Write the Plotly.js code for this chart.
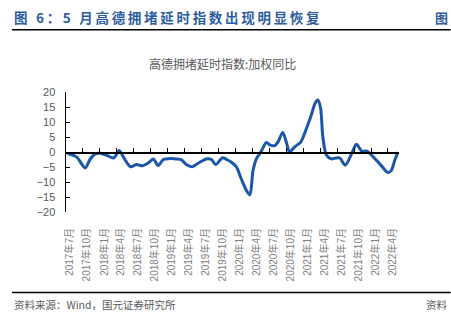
<!DOCTYPE html>
<html><head><meta charset="utf-8">
<script src="https://cdn.plot.ly/plotly-3.0.1.min.js"></script>
<style>html,body{margin:0;padding:0;background:#fff;}#chart{width:451px;height:323px;}</style>
</head><body><div id="chart"></div>
<script>
// Data
const dates = ['2017-06-18','2017-08-06','2017-09-20','2017-10-16','2017-11-13','2017-12-09','2018-01-11','2018-02-20','2018-03-04','2018-03-22','2018-04-22','2018-05-22','2018-06-24','2018-07-26','2018-08-26','2018-09-22','2018-10-18','2018-11-15','2018-12-20','2019-01-23','2019-02-21','2019-03-19','2019-04-20','2019-05-30','2019-07-05','2019-08-01','2019-08-24','2019-09-30','2019-10-22','2019-11-17','2019-12-14','2020-01-09','2020-02-07','2020-02-24','2020-03-12','2020-03-30','2020-04-26','2020-05-23','2020-06-10','2020-07-07','2020-07-25','2020-08-19','2020-09-09','2020-09-24','2020-10-26','2020-11-25','2020-12-25','2021-01-18','2021-02-09','2021-02-25','2021-03-11','2021-03-23','2021-04-11','2021-05-08','2021-06-01','2021-06-22','2021-07-21','2021-08-24','2021-09-20','2021-10-18','2021-11-15','2022-01-06','2022-02-04','2022-03-08','2022-03-26','2022-04-13','2022-05-01'];
const values = [-0.5,-1.7,-5.3,-2.5,-0.6,-0.4,-1.0,-2.0,-1.2,0.5,-2.5,-4.9,-4.2,-4.6,-3.7,-2.3,-4.5,-2.5,-2.2,-2.3,-2.6,-4.2,-4.9,-3.4,-2.3,-2.5,-4.2,-1.9,-2.5,-3.4,-5.0,-9.0,-13.0,-14.3,-6.2,-2.3,0.3,3.2,2.4,2.1,3.4,6.5,2.9,0.1,1.9,3.4,7.9,12.0,16.2,17.3,14.5,5.0,-1.0,-2.3,-2.0,-2.0,-4.4,-0.7,2.6,0.3,0.3,-2.8,-4.8,-6.8,-6.2,-3.0,0.0];
const labelDates = ['2017-07-01','2017-10-01','2018-01-01','2018-04-01','2018-07-01','2018-10-01','2019-01-01','2019-04-01','2019-07-01','2019-10-01','2020-01-01','2020-04-01','2020-07-01','2020-10-01','2021-01-01','2021-04-01','2021-07-01','2021-10-01','2022-01-01','2022-04-01'];
const tickLabels = ['2017年7月','2017年10月','2018年1月','2018年4月','2018年7月','2018年10月','2019年1月','2019年4月','2019年7月','2019年10月','2020年1月','2020年4月','2020年7月','2020年10月','2021年1月','2021年4月','2021年7月','2021年10月','2022年1月','2022年4月'];
const yTicks = [20,15,10,5,0,-5,-10,-15,-20];
const seriesName = '高德拥堵延时指数:加权同比';
const headerText = '图 6：5 月高德拥堵延时指数出现明显恢复';

const fontLat = 'Liberation Sans, Arial, Noto Sans CJK SC, sans-serif';
const fontCJK = 'Noto Sans CJK SC, sans-serif';
const xRange = ['2017-06-09','2022-05-07'];
const spaced = s => Array.from(s).join('\u2009');

const trace = {
  x: dates, y: values, type: 'scatter', mode: 'lines', name: seriesName,
  line: {color: '#1b57a8', width: 3, shape: 'spline', smoothing: 0.8},
  hoverinfo: 'skip'
};

const W = 333.3, H = 120, L = 66, T = 91.7;
const px = x => (x - L) / W;
const py = y => 1 - (y - T) / H;

const layout = {
  width: 451, height: 323,
  margin: {l: 66, r: 51.7, t: 91.7, b: 111.3, pad: 0},
  paper_bgcolor: '#fff', plot_bgcolor: 'rgba(0,0,0,0)',
  showlegend: false,
  xaxis: {
    type: 'date', range: xRange, showgrid: false, zeroline: false, showline: false,
    ticks: '', tickmode: 'array', tickvals: labelDates, ticktext: tickLabels,
    tickangle: -90, tickfont: {family: fontLat, size: 10, color: '#7f7f7f'},
    ticklabelstandoff: 13, anchor: 'y'
  },
  xaxis2: {
    type: 'date', matches: 'x', range: xRange, overlaying: 'x', anchor: 'free', position: 0.5,
    showline: true, linecolor: '#000', linewidth: 1.5, showgrid: false, zeroline: false,
    ticks: 'inside', ticklen: 4, tickwidth: 1, tickcolor: '#000',
    tickmode: 'linear', tick0: '2017-09-08', dtick: 'M3', showticklabels: false
  },
  yaxis: {
    range: [-20, 20], tickmode: 'array', tickvals: yTicks, showgrid: false, zeroline: false,
    showline: true, linecolor: '#000', linewidth: 1.5, ticks: 'inside', ticklen: 4, tickcolor: '#000', tickwidth: 1,
    tickfont: {family: fontLat, size: 11, color: '#595959'}, ticklabelstandoff: 7
  },
  annotations: [
    {text: '<b>' + spaced(headerText) + '</b>', xref: 'paper', yref: 'paper', x: px(12), xanchor: 'left',
     y: py(17), yanchor: 'middle', showarrow: false, font: {family: fontCJK, size: 13.5, color: '#2e5c9e'}},
    {text: '<b>图</b>', xref: 'paper', yref: 'paper', x: px(450), xanchor: 'right',
     y: py(17), yanchor: 'middle', showarrow: false, font: {family: fontCJK, size: 13, color: '#2e5c9e'}},
    {text: seriesName, xref: 'paper', yref: 'paper', x: px(223), xanchor: 'center',
     y: py(63), yanchor: 'middle', showarrow: false, font: {family: fontCJK, size: 12, color: '#595959'}},
    {text: '资料来源：Wind，国元证券研究所', xref: 'paper', yref: 'paper', x: px(12), xanchor: 'left',
     y: py(304), yanchor: 'middle', showarrow: false, font: {family: fontCJK, size: 10.5, color: '#595959'}},
    {text: '资料', xref: 'paper', yref: 'paper', x: px(450), xanchor: 'right',
     y: py(304), yanchor: 'middle', showarrow: false, font: {family: fontCJK, size: 10.5, color: '#595959'}}
  ],
  shapes: [
    {type: 'line', xref: 'paper', yref: 'paper', x0: px(12), x1: px(451),
     y0: py(29.5), y1: py(29.5), line: {color: '#000', width: 1.5}},
    {type: 'line', xref: 'paper', yref: 'paper', x0: px(12), x1: px(451),
     y0: py(292.3), y1: py(292.3), line: {color: '#000', width: 1.5}}
  ]
};

Plotly.newPlot('chart', [trace, {x: [dates[0]], y: [null], xaxis: 'x2', yaxis: 'y', type: 'scatter', mode: 'lines', hoverinfo: 'skip', showlegend: false}], layout, {staticPlot: true, displayModeBar: false});
</script></body></html>
